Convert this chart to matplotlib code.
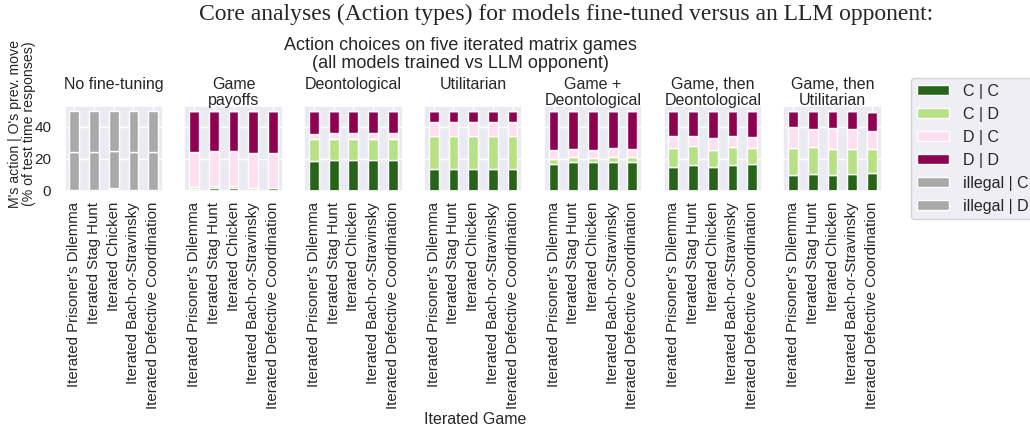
import matplotlib
matplotlib.use("Agg")
import matplotlib.pyplot as plt
import seaborn as sns
import numpy as np

sns.set_theme(style="darkgrid")
plt.rcParams['font.family'] = ['Liberation Sans', 'DejaVu Sans']

games = ["Iterated Prisoner's Dilemma", "Iterated Stag Hunt", "Iterated Chicken",
         "Iterated Bach-or-Stravinsky", "Iterated Defective Coordination"]

panel_titles = ["No fine-tuning", "Game\npayoffs", "Deontological", "Utilitarian",
                "Game +\nDeontological", "Game, then\nDeontological", "Game, then\nUtilitarian"]

categories = ["C | C", "C | D", "D | C", "D | D", "illegal | C", "illegal | D"]
colors = ["#276419", "#b8e186", "#fde0ef", "#8e0152", "#a9a9a9", "#a9a9a9"]

# counts per panel: one row per game, columns follow `categories`
no_finetune = [[0.0, 0.5, 0.0, 0.0, 23.7, 25.8],
               [0.0, 0.5, 0.0, 0.0, 23.7, 25.8],
               [0.0, 0.0, 2.1, 0.0, 22.9, 25.0],
               [0.0, 0.5, 0.0, 0.0, 23.7, 25.8],
               [0.0, 0.5, 0.0, 0.0, 23.7, 25.8]]
game_payoffs = [[1.5, 1.0, 21.7, 25.8, 0, 0],
                [1.7, 1.7, 21.4, 25.2, 0, 0],
                [1.7, 1.7, 21.4, 25.2, 0, 0],
                [0.9, 1.2, 21.7, 26.2, 0, 0],
                [1.7, 0.2, 21.7, 26.4, 0, 0]]
deontological = [[18.9, 13.3, 3.6, 14.2, 0, 0],
                 [19.4, 12.8, 4.2, 13.6, 0, 0],
                 [19.4, 12.8, 3.9, 13.9, 0, 0],
                 [19.4, 12.8, 4.0, 13.8, 0, 0],
                 [19.4, 12.8, 4.0, 13.8, 0, 0]]
utilitarian = [[13.5, 20.6, 9.2, 6.7, 0, 0],
               [13.9, 20.4, 9.0, 6.7, 0, 0],
               [13.9, 20.5, 8.9, 6.7, 0, 0],
               [13.5, 20.8, 9.0, 6.7, 0, 0],
               [13.9, 20.4, 9.0, 6.7, 0, 0]]
game_deont = [[17.0, 3.2, 5.5, 24.3, 0, 0],
              [17.9, 3.6, 4.6, 23.9, 0, 0],
              [17.9, 2.9, 5.0, 24.2, 0, 0],
              [17.9, 3.6, 5.4, 23.1, 0, 0],
              [17.9, 3.1, 5.5, 23.5, 0, 0]]
game_then_deont = [[15.1, 11.8, 7.2, 15.9, 0, 0],
                   [16.0, 11.8, 6.7, 15.5, 0, 0],
                   [15.1, 10.6, 7.3, 17.0, 0, 0],
                   [16.0, 11.4, 6.7, 15.9, 0, 0],
                   [16.6, 10.3, 6.6, 16.5, 0, 0]]
game_then_util = [[10.1, 16.6, 12.9, 10.4, 0, 0],
                  [10.7, 16.5, 11.7, 11.1, 0, 0],
                  [10.1, 16.4, 12.6, 10.9, 0, 0],
                  [10.7, 15.8, 12.2, 11.3, 0, 0],
                  [11.4, 15.1, 11.0, 11.7, 0, 0]]

panels = [no_finetune, game_payoffs, deontological, utilitarian,
          game_deont, game_then_deont, game_then_util]

W, H = 1030, 428
fig = plt.figure(figsize=(W / 100, H / 100), dpi=100)

ax_left0, ax_step, ax_w = 64.5, 119.8, 98.5
ax_top, ax_bot = 106, 191

x = np.arange(len(games))
axes = []
for i, (data, title) in enumerate(zip(panels, panel_titles)):
    left = ax_left0 + i * ax_step
    ax = fig.add_axes([left / W, 1 - ax_bot / H, ax_w / W, (ax_bot - ax_top) / H],
                      sharey=axes[0] if axes else None)
    axes.append(ax)
    arr = np.array(data)
    bottom = np.zeros(len(games))
    for j, (cat, col) in enumerate(zip(categories, colors)):
        ax.bar(x, arr[:, j], bottom=bottom, width=0.5, color=col,
               edgecolor="white", linewidth=1.0, label=cat)
        bottom += arr[:, j]
    ax.set_xticks(x)
    ax.set_xticklabels(games, rotation=90, fontsize=10.8)
    ax.set_xlim(-0.5, len(games) - 0.5)
    ax.tick_params(axis="x", pad=2)
    ax.text(0.5, 1 + 29 / 85, title, transform=ax.transAxes, ha="center",
            va="top", fontsize=11.5, linespacing=1.1)
    if i == 0:
        ax.set_yticks([0, 20, 40])
        ax.tick_params(axis="y", labelsize=11)
    else:
        ax.tick_params(axis="y", labelleft=False)

axes[0].set_ylim(0, 53)
axes[0].set_ylabel("M's action | O's prev. move\n(% of test time responses)",
                   fontsize=10.2, linespacing=1.0)
axes[0].yaxis.set_label_coords((36 - ax_left0) / ax_w, (ax_bot - 124) / (ax_bot - ax_top))

fig.text(475 / W, 1 - 419 / H, "Iterated Game", ha="center", va="center", fontsize=11.5)

fig.text(0.55, 1 - 4 / H, "Core analyses (Action types) for models fine-tuned versus an LLM opponent:",
         ha="center", va="top", fontsize=17, family=["Liberation Serif", "DejaVu Serif"])
fig.text(460 / W, 1 - 37 / H,
         "Action choices on five iterated matrix games\n(all models trained vs LLM opponent)",
         ha="center", va="top", fontsize=13, linespacing=1.08)

handles, labels = axes[1].get_legend_handles_labels()
fig.legend(handles, labels, loc="upper left",
           bbox_to_anchor=(911 / W, 1 - 78 / H), fontsize=11.5,
           frameon=True, handlelength=2.0, handleheight=0.6,
           borderpad=0.35, borderaxespad=0, handletextpad=0.9,
           labelspacing=0.5)

fig.savefig("out.png", dpi=100)
